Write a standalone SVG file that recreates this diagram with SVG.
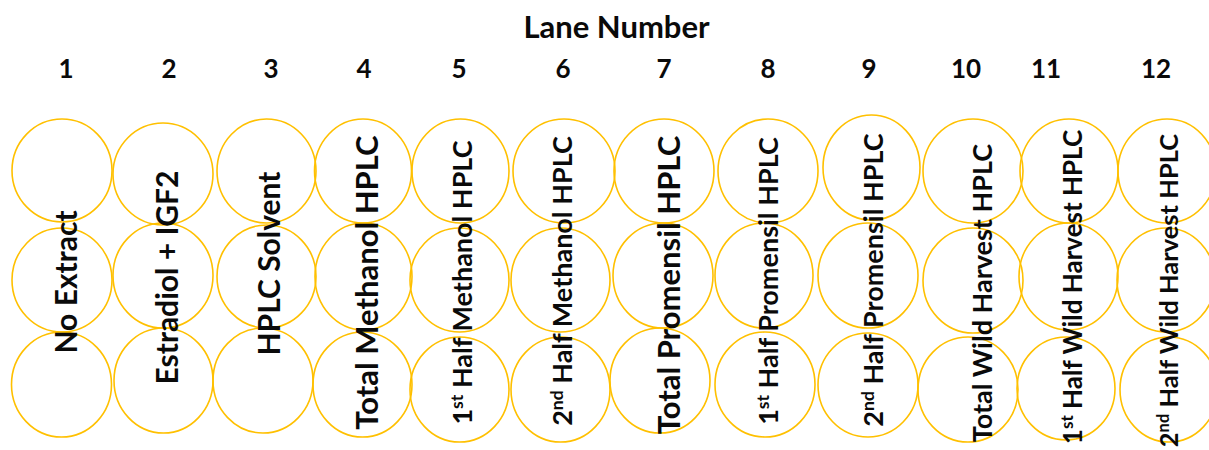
<svg xmlns="http://www.w3.org/2000/svg" width="1209" height="450" viewBox="0 0 1209 450">
<style>
.w{fill:none;stroke:#FFC000;stroke-width:1.6}
.t{font-family:Lato,"Liberation Sans",sans-serif;font-weight:700;fill:#0a0a0a}
.h{font-size:31px;text-anchor:middle}
.n{font-size:26px;text-anchor:middle}
.v{text-anchor:middle}
</style>
<rect width="1209" height="450" fill="#fff"/>
<text class="t h" x="616.5" y="38">Lane Number</text>
<g id="lane-numbers">
<text class="t n" x="66" y="78">1</text>
<text class="t n" x="169" y="78">2</text>
<text class="t n" x="271" y="78">3</text>
<text class="t n" x="364" y="78">4</text>
<text class="t n" x="459" y="78">5</text>
<text class="t n" x="563" y="78">6</text>
<text class="t n" x="664" y="78">7</text>
<text class="t n" x="768" y="78">8</text>
<text class="t n" x="869" y="78">9</text>
<text class="t n" x="966" y="78">10</text>
<text class="t n" x="1046" y="78">11</text>
<text class="t n" x="1156" y="78">12</text>
</g>
<g id="wells">
<g id="lane1">
<ellipse class="w" cx="62" cy="170.5" rx="50" ry="51.5"/>
<ellipse class="w" cx="62" cy="280" rx="50" ry="52"/>
<ellipse class="w" cx="61.5" cy="384.5" rx="50" ry="52.5"/>
<text class="t v" font-size="30" transform="translate(77,282) rotate(-90)">No Extract</text>
</g>
<g id="lane2">
<ellipse class="w" cx="163" cy="174" rx="50" ry="51"/>
<ellipse class="w" cx="163" cy="275.5" rx="50" ry="52.5"/>
<ellipse class="w" cx="163.5" cy="380.5" rx="49.5" ry="52.5"/>
<text class="t v" font-size="30" transform="translate(178,277.5) rotate(-90)">Estradiol + IGF2</text>
</g>
<g id="lane3">
<ellipse class="w" cx="266.5" cy="171" rx="49.5" ry="52"/>
<ellipse class="w" cx="266.5" cy="276.5" rx="49.5" ry="51.5"/>
<ellipse class="w" cx="263" cy="380.5" rx="50" ry="52.5"/>
<text class="t v" font-size="30" transform="translate(280,263.5) rotate(-90)">HPLC Solvent</text>
</g>
<g id="lane4">
<ellipse class="w" cx="363" cy="171" rx="48.5" ry="52"/>
<ellipse class="w" cx="363.5" cy="276.5" rx="48.5" ry="53.5"/>
<ellipse class="w" cx="362.5" cy="384.5" rx="49.5" ry="52.5"/>
<text class="t v" font-size="31" transform="translate(378,282.5) rotate(-90)">Total Methanol HPLC</text>
</g>
<g id="lane5">
<ellipse class="w" cx="460.5" cy="171" rx="48.5" ry="52"/>
<ellipse class="w" cx="459.5" cy="280" rx="49.5" ry="52"/>
<ellipse class="w" cx="459.5" cy="389.5" rx="49.5" ry="52.5"/>
<text class="t v" font-size="27" transform="translate(472,282.5) rotate(-90)">1<tspan font-size="17.5" dy="-9.5">st</tspan><tspan dy="9.5"> Half Methanol HPLC</tspan></text>
</g>
<g id="lane6">
<ellipse class="w" cx="564" cy="171" rx="51" ry="52"/>
<ellipse class="w" cx="560.5" cy="280" rx="49.5" ry="52"/>
<ellipse class="w" cx="560.5" cy="389.5" rx="49.5" ry="52.5"/>
<text class="t v" font-size="27" transform="translate(572,281) rotate(-90)">2<tspan font-size="17.5" dy="-9.5">nd</tspan><tspan dy="9.5"> Half Methanol HPLC</tspan></text>
</g>
<g id="lane7">
<ellipse class="w" cx="664" cy="171" rx="50" ry="52"/>
<ellipse class="w" cx="663" cy="275.5" rx="50" ry="52.5"/>
<ellipse class="w" cx="660" cy="380.5" rx="50" ry="52.5"/>
<text class="t v" font-size="31" transform="translate(680,285) rotate(-90)">Total Promensil HPLC</text>
</g>
<g id="lane8">
<ellipse class="w" cx="768" cy="171" rx="50" ry="52"/>
<ellipse class="w" cx="764" cy="275.5" rx="49" ry="52.5"/>
<ellipse class="w" cx="765" cy="384.5" rx="50" ry="52.5"/>
<text class="t v" font-size="27" transform="translate(778,281) rotate(-90)">1<tspan font-size="17.5" dy="-9.5">st</tspan><tspan dy="9.5"> Half Promensil HPLC</tspan></text>
</g>
<g id="lane9">
<ellipse class="w" cx="871.5" cy="167.5" rx="48.5" ry="52.5"/>
<ellipse class="w" cx="868" cy="275.5" rx="50" ry="52.5"/>
<ellipse class="w" cx="868" cy="385" rx="50" ry="52"/>
<text class="t v" font-size="27" transform="translate(883,280) rotate(-90)">2<tspan font-size="17.5" dy="-9.5">nd</tspan><tspan dy="9.5"> Half Promensil HPLC</tspan></text>
</g>
<g id="lane10">
<ellipse class="w" cx="973" cy="171" rx="50" ry="52"/>
<ellipse class="w" cx="973" cy="280.5" rx="50" ry="52.5"/>
<ellipse class="w" cx="968" cy="389.5" rx="50" ry="52.5"/>
<text class="t v" font-size="27" transform="translate(992,293) rotate(-90)">Total Wild Harvest HPLC</text>
</g>
<g id="lane11">
<ellipse class="w" cx="1069" cy="171" rx="49" ry="52"/>
<ellipse class="w" cx="1068.5" cy="276.5" rx="49.5" ry="53.5"/>
<ellipse class="w" cx="1066" cy="388.5" rx="49" ry="51.5"/>
<text class="t v" font-size="26" transform="translate(1082,287) rotate(-90)">1<tspan font-size="17" dy="-9">st</tspan><tspan dy="9"> Half Wild Harvest HPLC</tspan></text>
</g>
<g id="lane12">
<ellipse class="w" cx="1167" cy="171" rx="49" ry="52"/>
<ellipse class="w" cx="1166" cy="280" rx="49" ry="52"/>
<ellipse class="w" cx="1169" cy="389.5" rx="49" ry="52.5"/>
<text class="t v" font-size="25.5" transform="translate(1178,290.5) rotate(-90)">2<tspan font-size="16.5" dy="-9">nd</tspan><tspan dy="9"> Half Wild Harvest HPLC</tspan></text>
</g>
</g>
<g id="connectors"/>
</svg>
